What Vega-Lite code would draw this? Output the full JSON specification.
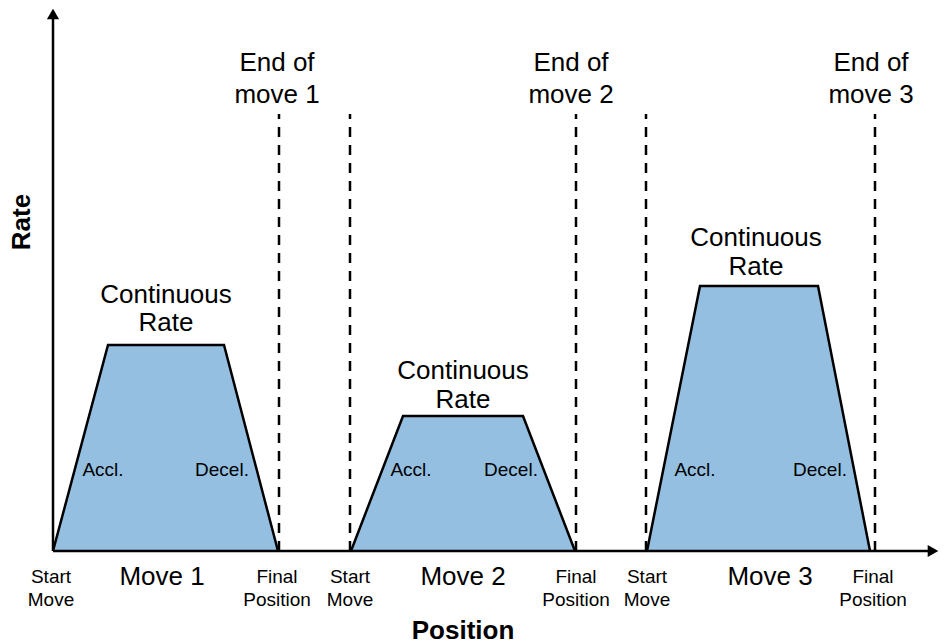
{
  "$schema": "https://vega.github.io/schema/vega-lite/v6.json",
  "width": 944,
  "height": 644,
  "autosize": {"type": "fit", "contains": "padding"},
  "padding": 0,
  "background": "white",
  "config": {"view": {"stroke": null}, "text": {"font": "Liberation Sans"}},
  "datasets": {
    "shapes": [
      {"move": "Move 1", "position": 53, "rate": 0},
      {"move": "Move 1", "position": 108, "rate": 206},
      {"move": "Move 1", "position": 224, "rate": 206},
      {"move": "Move 1", "position": 278, "rate": 0},
      {"move": "Move 2", "position": 351, "rate": 0},
      {"move": "Move 2", "position": 403, "rate": 135},
      {"move": "Move 2", "position": 523, "rate": 135},
      {"move": "Move 2", "position": 575, "rate": 0},
      {"move": "Move 3", "position": 647, "rate": 0},
      {"move": "Move 3", "position": 700, "rate": 265},
      {"move": "Move 3", "position": 818, "rate": 265},
      {"move": "Move 3", "position": 870, "rate": 0}
    ],
    "dashes": [
      {"position": 279, "rate": 0, "rate2": 437},
      {"position": 350, "rate": 0, "rate2": 437},
      {"position": 576, "rate": 0, "rate2": 437},
      {"position": 646, "rate": 0, "rate2": 437},
      {"position": 875, "rate": 0, "rate2": 437}
    ],
    "axes": [
      {"position": 53, "position2": 53, "rate": 0, "rate2": 534},
      {"position": 53, "position2": 930, "rate": 0, "rate2": 0}
    ],
    "arrows": [
      {"dir": "up", "position": 53, "rate": 537},
      {"dir": "right", "position": 933, "rate": 0}
    ],
    "labels": [
      {"kind": "big", "text": "End of", "position": 277, "rate": 488},
      {"kind": "big", "text": "move 1", "position": 277, "rate": 456},
      {"kind": "big", "text": "End of", "position": 571, "rate": 488},
      {"kind": "big", "text": "move 2", "position": 571, "rate": 456},
      {"kind": "big", "text": "End of", "position": 871, "rate": 488},
      {"kind": "big", "text": "move 3", "position": 871, "rate": 456},
      {"kind": "big", "text": "Continuous", "position": 166, "rate": 256},
      {"kind": "big", "text": "Rate", "position": 166, "rate": 228},
      {"kind": "big", "text": "Continuous", "position": 463, "rate": 180},
      {"kind": "big", "text": "Rate", "position": 463, "rate": 151},
      {"kind": "big", "text": "Continuous", "position": 756, "rate": 313},
      {"kind": "big", "text": "Rate", "position": 756, "rate": 284},
      {"kind": "big", "text": "Move 1", "position": 162, "rate": -26},
      {"kind": "big", "text": "Move 2", "position": 463, "rate": -26},
      {"kind": "big", "text": "Move 3", "position": 770, "rate": -26},
      {"kind": "small", "text": "Accl.", "position": 103, "rate": 81},
      {"kind": "small", "text": "Decel.", "position": 222, "rate": 81},
      {"kind": "small", "text": "Accl.", "position": 411, "rate": 81},
      {"kind": "small", "text": "Decel.", "position": 511, "rate": 81},
      {"kind": "small", "text": "Accl.", "position": 695, "rate": 81},
      {"kind": "small", "text": "Decel.", "position": 820, "rate": 81},
      {"kind": "small", "text": "Start", "position": 51, "rate": -26},
      {"kind": "small", "text": "Move", "position": 51, "rate": -49},
      {"kind": "small", "text": "Final", "position": 277, "rate": -26},
      {"kind": "small", "text": "Position", "position": 277, "rate": -49},
      {"kind": "small", "text": "Start", "position": 350, "rate": -26},
      {"kind": "small", "text": "Move", "position": 350, "rate": -49},
      {"kind": "small", "text": "Final", "position": 576, "rate": -26},
      {"kind": "small", "text": "Position", "position": 576, "rate": -49},
      {"kind": "small", "text": "Start", "position": 647, "rate": -26},
      {"kind": "small", "text": "Move", "position": 647, "rate": -49},
      {"kind": "small", "text": "Final", "position": 873, "rate": -26},
      {"kind": "small", "text": "Position", "position": 873, "rate": -49}
    ],
    "titles": [
      {"dir": "h", "text": "Position", "position": 463, "rate": -80},
      {"dir": "v", "text": "Rate", "position": 22, "rate": 329}
    ]
  },
  "resolve": {"scale": {"x": "shared", "y": "shared"}},
  "encoding": {
    "x": {"field": "position", "type": "quantitative", "scale": {"domain": [0, 944], "nice": false, "zero": false}, "axis": null},
    "y": {"field": "rate", "type": "quantitative", "scale": {"domain": [-93, 551], "nice": false, "zero": false}, "axis": null}
  },
  "layer": [
    {
      "data": {"name": "shapes"},
      "mark": {"type": "area", "color": "#94bfe0", "opacity": 1},
      "encoding": {"detail": {"field": "move"}, "y2": {"datum": 0}}
    },
    {
      "data": {"name": "shapes"},
      "mark": {"type": "line", "color": "black", "strokeWidth": 2.5},
      "encoding": {"detail": {"field": "move"}}
    },
    {
      "data": {"name": "dashes"},
      "mark": {"type": "rule", "color": "black", "strokeWidth": 2.5, "strokeDash": [10, 8]},
      "encoding": {"y2": {"field": "rate2"}}
    },
    {
      "data": {"name": "axes"},
      "mark": {"type": "rule", "color": "black", "strokeWidth": 2.5},
      "encoding": {"x2": {"field": "position2"}, "y2": {"field": "rate2"}}
    },
    {
      "data": {"name": "arrows"},
      "transform": [{"filter": "datum.dir === 'up'"}],
      "mark": {"type": "point", "shape": "triangle-up", "filled": true, "color": "black", "size": 150, "opacity": 1}
    },
    {
      "data": {"name": "arrows"},
      "transform": [{"filter": "datum.dir === 'right'"}],
      "mark": {"type": "point", "shape": "triangle-right", "filled": true, "color": "black", "size": 150, "opacity": 1}
    },
    {
      "data": {"name": "labels"},
      "transform": [{"filter": "datum.kind === 'big'"}],
      "mark": {"type": "text", "fontSize": 26, "color": "black", "align": "center", "baseline": "middle"},
      "encoding": {"text": {"field": "text"}}
    },
    {
      "data": {"name": "labels"},
      "transform": [{"filter": "datum.kind === 'small'"}],
      "mark": {"type": "text", "fontSize": 19, "color": "black", "align": "center", "baseline": "middle"},
      "encoding": {"text": {"field": "text"}}
    },
    {
      "data": {"name": "titles"},
      "transform": [{"filter": "datum.dir === 'h'"}],
      "mark": {"type": "text", "fontSize": 26, "fontWeight": "bold", "color": "black", "align": "center", "baseline": "middle"},
      "encoding": {"text": {"field": "text"}}
    },
    {
      "data": {"name": "titles"},
      "transform": [{"filter": "datum.dir === 'v'"}],
      "mark": {"type": "text", "fontSize": 26, "fontWeight": "bold", "color": "black", "align": "center", "baseline": "middle", "angle": 270},
      "encoding": {"text": {"field": "text"}}
    }
  ]
}
